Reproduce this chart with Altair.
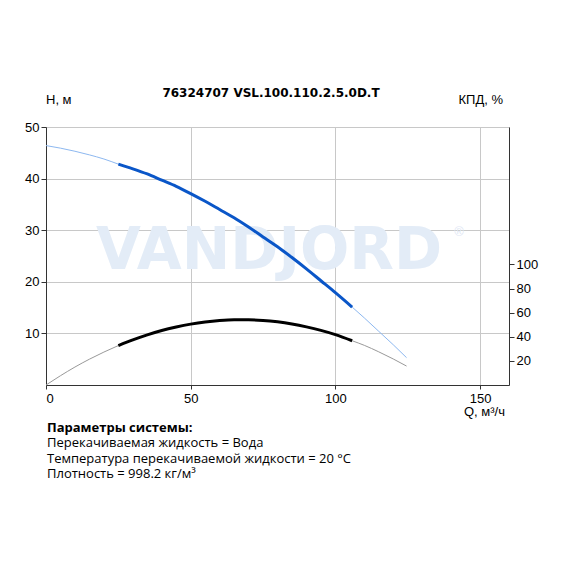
import altair as alt
import pandas as pd

# ---- data ----
q = [0, 5, 10, 15, 20, 25, 30, 35, 40, 45, 50, 55, 60, 65, 70, 75, 80, 85, 90, 95, 100, 105.8, 110, 115, 120, 124.6]
head = [46.4, 45.9, 45.3, 44.6, 43.8, 42.8, 41.9, 40.9, 39.7, 38.5, 37.1, 35.6, 34.0, 32.4, 30.6, 28.7, 26.8, 24.7, 22.5, 20.2, 17.9, 15.1, 13.0, 10.4, 7.8, 5.3]
eff = [0, 7.7, 14.9, 21.4, 27.3, 32.7, 37.4, 41.6, 45.2, 48.1, 50.5, 52.3, 53.5, 54.1, 54.1, 53.6, 52.4, 50.6, 48.2, 45.3, 41.8, 36.7, 32.9, 27.5, 21.6, 15.7]
q_min_op = 25
q_max_op = 105.8

x_ticks = [0, 50, 100, 150]
h_ticks = [10, 20, 30, 40, 50]
eff_ticks = [20, 40, 60, 80, 100]

title = "76324707 VSL.100.110.2.5.0D.T"
params_title = "Параметры системы:"
params = [
    "Перекачиваемая жидкость = Вода",
    "Температура перекачиваемой жидкости = 20 °C",
    "Плотность = 998.2 кг/м³",
]

df = pd.DataFrame({"Q": q, "H": head, "E": eff})
df_op = df[(df.Q >= q_min_op) & (df.Q <= q_max_op)]
df_lo = df[df.Q <= q_min_op]
df_hi = df[df.Q >= q_max_op]

W, Hh = 463, 258
FONT = "Liberation Sans"

xscale = alt.Scale(domain=[0, 160], nice=False)
hscale = alt.Scale(domain=[0, 50], nice=False)
escale = alt.Scale(domain=[0, 214], nice=False)

x_axis = alt.Axis(values=x_ticks, title=None, grid=True, gridColor="#c8c8c8", domainColor="#333",
                  tickColor="#333", tickSize=4, labelFontSize=13, labelColor="#000", labelFont=FONT,
                  labelPadding=3)
h_axis = alt.Axis(values=h_ticks, title=None, grid=True, gridColor="#c8c8c8", domainColor="#333",
                  tickColor="#333", tickSize=5, labelFontSize=13, labelColor="#000", labelFont=FONT)
e_axis = alt.Axis(values=eff_ticks, title=None, grid=False, orient="right", domainColor="#333",
                  tickColor="#333", tickSize=5, labelFontSize=13, labelColor="#000", labelFont=FONT)

xenc = alt.X("Q:Q", scale=xscale, axis=x_axis)


def hline(d, color, w):
    return alt.Chart(d).mark_line(color=color, strokeWidth=w, interpolate="monotone").encode(
        x=xenc, y=alt.Y("H:Q", scale=hscale, axis=h_axis))


def eline(d, color, w):
    return alt.Chart(d).mark_line(color=color, strokeWidth=w, interpolate="monotone").encode(
        x=xenc, y=alt.Y("E:Q", scale=escale, axis=e_axis))


def txt(s, x, y, size=13, weight="normal", align="left", font=FONT, color="#000"):
    return alt.Chart(pd.DataFrame({"t": [s]})).mark_text(
        fontSize=size, fontWeight=weight, align=align, baseline="middle", font=font, color=color
    ).encode(text="t:N", x=alt.value(x), y=alt.value(y))


left = alt.layer(
    txt("VANDJORD", 223, 125, size=58, weight="bold", align="center", font="DejaVu Sans", color="#e3ecf7"),
    txt("®", 413, 105, size=13, align="center", color="#dfe8f5"),
    txt(title, 225, -34, size=12, weight="bold", align="center", font="DejaVu Sans"),
    txt("H, м", 0, -27, size=13),
    txt("КПД, %", 457, -27, size=13, align="right"),
    txt("Q, м³/ч", 459, 285, size=13, align="right"),
    txt(params_title, 1, 301, size=13, weight="bold", font="Open Sans"),
    txt(params[0], 1, 316, size=13, font="Open Sans"),
    txt(params[1], 1, 332, size=13, font="Open Sans"),
    txt(params[2], 1, 347, size=13, font="Open Sans"),
    hline(df_lo, "#8db8f0", 1),
    hline(df_hi, "#8db8f0", 1),
    hline(df_op, "#0a56c8", 3),
)
right = alt.layer(
    eline(df_lo, "#999999", 1),
    eline(df_hi, "#999999", 1),
    eline(df_op, "#000000", 3),
)

chart = alt.layer(left, right).resolve_scale(y="independent").properties(
    width=W, height=Hh,
    padding={"left": 38, "top": 119, "right": 45, "bottom": 170},
    autosize=alt.AutoSizeParams(type="none"),
).configure_view(stroke="#333", strokeWidth=1).configure(background="white")

chart.save("out.html", embed_options={"renderer": "svg", "actions": False})
